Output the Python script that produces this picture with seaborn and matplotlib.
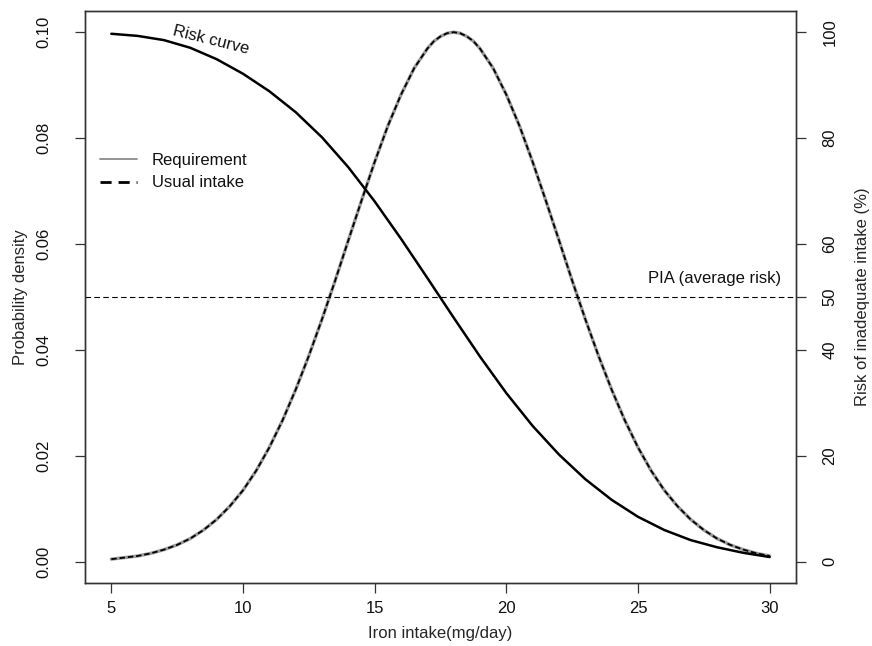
# Curvas de requerimiento / ingesta habitual de hierro y curva de riesgo
import numpy as np
import pandas as pd
import seaborn as sns
import matplotlib.pyplot as plt
from matplotlib.lines import Line2D

# Datos
intake = [5.0, 5.5, 6.0, 6.5, 7.0, 7.5, 8.0, 8.5, 9.0, 9.5,
          10.0, 10.5, 11.0, 11.5, 12.0, 12.5, 13.0, 13.5, 14.0, 14.5,
          15.0, 15.5, 16.0, 16.5, 17.0, 17.25, 17.5, 17.75, 18.0, 18.25, 18.5, 18.75, 19.0, 19.5,
          20.0, 20.5, 21.0, 21.5, 22.0, 22.5, 23.0, 23.5, 24.0, 24.5,
          25.0, 25.5, 26.0, 26.5, 27.0, 27.5, 28.0, 28.5, 29.0, 29.5, 30.0]
density = [0.0005, 0.0008, 0.0011, 0.0016, 0.0023, 0.0032, 0.0044, 0.0060, 0.0080, 0.0105,
           0.0135, 0.0172, 0.0216, 0.0267, 0.0325, 0.0389, 0.0458, 0.0531, 0.0607, 0.0682,
           0.0755, 0.0823, 0.0882, 0.0932, 0.0969, 0.0983, 0.0992, 0.0998, 0.1000, 0.0998,
           0.0992, 0.0983, 0.0969, 0.0932,
           0.0882, 0.0823, 0.0755, 0.0682, 0.0607, 0.0531, 0.0458, 0.0389, 0.0325, 0.0267,
           0.0216, 0.0172, 0.0135, 0.0105, 0.0080, 0.0060, 0.0044, 0.0032, 0.0023, 0.0016, 0.0011]

risk_intake = [5, 6, 7, 8, 9, 10, 11, 12, 13, 14, 15, 16, 17, 18, 19, 20,
               21, 22, 23, 24, 25, 26, 27, 28, 29, 30]
risk_pct = [99.7, 99.3, 98.5, 97.05, 94.9, 92.15, 88.85, 84.9, 80.15, 74.5, 68.05, 61.0, 53.6,
            46.1, 38.75, 31.85, 25.65, 20.25, 15.6, 11.7, 8.5, 6.0, 4.1, 2.75, 1.7, 0.9]

pia = 0.05

df_dens = pd.DataFrame({"intake": intake, "density": density})
df_risk = pd.DataFrame({"intake": risk_intake, "risk": risk_pct})

sns.set_theme(style="ticks")
plt.rcParams['font.family'] = ['Liberation Sans', 'DejaVu Sans']
plt.rcParams['text.color'] = '#111111'

fig = plt.figure(figsize=(8.72, 6.46), dpi=100)
ax = fig.add_axes([85 / 872, 63 / 646, 711 / 872, 572 / 646])
ax2 = ax.twinx()

# Requerimiento (gris) y ingesta habitual (negra a trazos) coinciden
sns.lineplot(data=df_dens, x="intake", y="density", ax=ax, color="#9a9a9a", lw=2.4)
sns.lineplot(data=df_dens, x="intake", y="density", ax=ax, color="black", lw=1.3,
             linestyle=(0, (3, 1.6)))

# Curva de riesgo en el eje derecho
sns.lineplot(data=df_risk, x="intake", y="risk", ax=ax2, color="black", lw=1.8)

ax.axhline(pia, color="black", lw=0.8, linestyle=(0, (5, 3)))
ax.text(30.45, 0.0526, "PIA (average risk)", ha="right", va="baseline", fontsize=12)
ax.text(8.8, 0.0986, "Risk curve", rotation=-14, ha="center", va="center", fontsize=12)

ax.set_xlim(4, 31)
ax.set_ylim(-0.004, 0.104)
ax2.set_ylim(-4, 104)
ax.set_xticks([5, 10, 15, 20, 25, 30])
ax.set_yticks([0.0, 0.02, 0.04, 0.06, 0.08, 0.10])
ax.set_yticklabels(["0.00", "0.02", "0.04", "0.06", "0.08", "0.10"])
ax2.set_yticks([0, 20, 40, 50, 60, 80, 100])

for a in (ax, ax2):
    a.tick_params(direction="out", length=7, width=0.9, color="#333333",
                  labelsize=12, labelcolor="#111111")
    for s in a.spines.values():
        s.set_visible(True)
        s.set_color("#333333")
        s.set_linewidth(1.0)
ax.tick_params(axis="x", pad=6)
ax.tick_params(axis="y", pad=17)
ax2.tick_params(axis="y", pad=12)
plt.setp(ax.get_yticklabels(), rotation=90, va="center")
plt.setp(ax2.get_yticklabels(), rotation=90, va="center")

ax.set_xlabel("Iron intake(mg/day)", fontsize=12, labelpad=7)
ax.set_ylabel("Probability density", fontsize=12, labelpad=6)
ax2.set_ylabel("Risk of inadequate intake (%)", fontsize=12, labelpad=13)
ax2.yaxis.label.set_rotation(90)

handles = [Line2D([], [], color="#8a8a8a", lw=1.3),
           Line2D([], [], color="black", lw=2, linestyle=(0, (4, 2.5)))]
ax.legend(handles, ["Requirement", "Usual intake"], loc="upper left",
          bbox_to_anchor=(0.0, 0.778), frameon=False, fontsize=12,
          handlelength=2.2, labelspacing=0.45, handletextpad=0.9)

fig.savefig("out.png", dpi=100)
